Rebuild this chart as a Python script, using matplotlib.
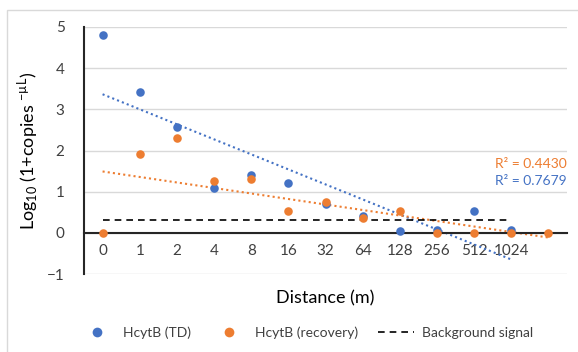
import numpy as np
import matplotlib
matplotlib.use("Agg")
import matplotlib.pyplot as plt
from matplotlib.lines import Line2D
from matplotlib.patches import Rectangle

plt.rcParams['font.family'] = ['Lato', 'DejaVu Sans']

# categories (the 13th slot has no label)
distances = ["0", "1", "2", "4", "8", "16", "32", "64", "128", "256", "512", "1024", ""]

# log10 (1 + copies/uL)
td = [4.8, 3.43, 2.58, 1.08, 1.4, 1.2, 0.7, 0.4, 0.05, 0.08, 0.52, 0.07]
recovery = [0.0, 1.92, 2.3, 1.26, 1.31, 0.53, 0.76, 0.35, 0.52, 0.0, 0.0, 0.0, 0.0]
background = 0.3
r2_td = "R² = 0.7679"
r2_rec = "R² = 0.4430"

blue = "#4472C4"
orange = "#ED7D31"
grey_txt = "#404040"

fig = plt.figure(figsize=(5.78, 3.52), dpi=100)
ax = fig.add_axes([84 / 578, 1 - 274 / 352, (567 - 84) / 578, (274 - 27) / 352])

x_td = np.arange(1, len(td) + 1)
x_rec = np.arange(1, len(recovery) + 1)

# linear trendlines like Excel
p_td = np.polyfit(x_td, td, 1)
p_rec = np.polyfit(x_rec, recovery, 1)
ax.plot(x_td, np.polyval(p_td, x_td), color=blue, ls=(0, (1, 1.5)), lw=1.5, zorder=2)
ax.plot(x_rec, np.polyval(p_rec, x_rec), color=orange, ls=(0, (1, 1.5)), lw=1.5, zorder=2)

# background signal
ax.plot([1, 12], [background, background], color="black", ls=(0, (4, 3)), lw=1.2, zorder=2)

ax.scatter(x_td, td, s=38, color=blue, zorder=3, linewidths=0)
ax.scatter(x_rec, recovery, s=38, color=orange, zorder=4, linewidths=0)

ax.set_xlim(0.5, len(distances) + 0.5)
ax.set_ylim(-1, 5)
ax.set_yticks(range(-1, 6))
ax.set_xticks(x_rec)
ax.set_xticklabels(distances)
ax.tick_params(axis='both', length=0, labelsize=11, colors=grey_txt)
ax.tick_params(axis='x', pad=8)
ax.tick_params(axis='y', pad=14)
ax.grid(axis='y', color="#d9d9d9", lw=1)
ax.set_axisbelow(True)

for s in ['top', 'right']:
    ax.spines[s].set_visible(False)
ax.spines['left'].set_color("#262626")
ax.spines['left'].set_linewidth(1.5)
ax.spines['bottom'].set_position(('data', 0))
ax.spines['bottom'].set_color("#262626")
ax.spines['bottom'].set_linewidth(1.5)
ax.spines['bottom'].set_zorder(2.5)

ax.set_xlabel("Distance (m)", fontsize=13, color="black")
ax.xaxis.set_label_coords(0.5, -(290 - 274) / 247)
ax.set_ylabel(r"Log$_{\mathregular{10}}$ (1+copies $^{\mathregular{-µL}}$)", fontsize=13, color="black")
ax.yaxis.set_label_coords(-(84 - 40) / 483, 0.5)

ax.text(1.0, (274 - 164) / 247, r2_rec, transform=ax.transAxes, ha='right', va='center',
        fontsize=10, color=orange)
ax.text(1.0, (274 - 181) / 247, r2_td, transform=ax.transAxes, ha='right', va='center',
        fontsize=10, color=blue)

handles = [
    Line2D([], [], ls='none', marker='o', markersize=7, color=blue, markeredgewidth=0),
    Line2D([], [], ls='none', marker='o', markersize=7, color=orange, markeredgewidth=0),
    Line2D([], [], color="black", ls=(0, (4, 3)), lw=1.2),
]
fig.legend(handles, ["HcytB (TD)", "HcytB (recovery)", "Background signal"],
           loc='center', bbox_to_anchor=(306 / 578, 1 - 333 / 352), ncol=3, frameon=False,
           fontsize=10, handlelength=2.6, handletextpad=0.6, columnspacing=1.4,
           labelcolor=grey_txt)

fig.patches.append(Rectangle((7 / 578, -0.1), 2, 1.1 - 10 / 352, transform=fig.transFigure,
                             fill=False, edgecolor="#d9d9d9", lw=1))

fig.savefig("out.png", dpi=100)
